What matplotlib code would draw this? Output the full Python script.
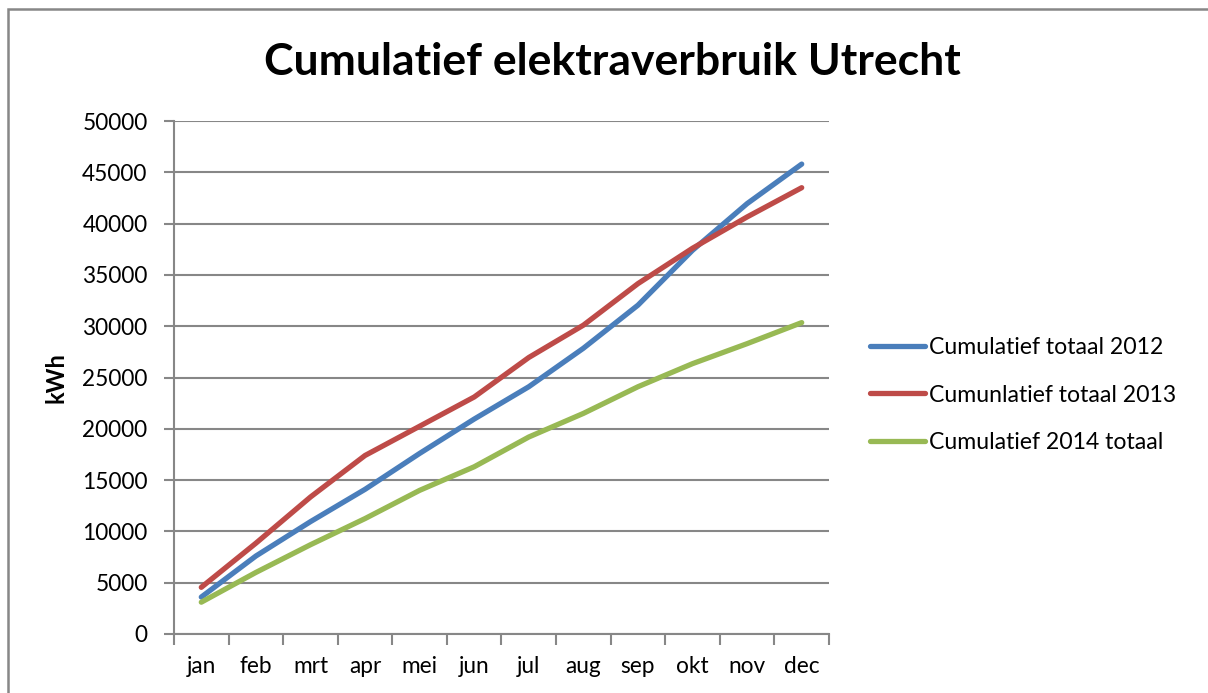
import matplotlib.pyplot as plt
from matplotlib.patches import Rectangle

months = ["jan", "feb", "mrt", "apr", "mei", "jun",
          "jul", "aug", "sep", "okt", "nov", "dec"]
totaal_2012 = [3600, 7600, 10950, 14100, 17600, 20950,
               24100, 27850, 32050, 37400, 41950, 45800]
totaal_2013 = [4550, 8850, 13350, 17400, 20250, 23100,
               26950, 30100, 34150, 37600, 40650, 43500]
totaal_2014 = [3100, 6000, 8700, 11250, 14000, 16300,
               19200, 21500, 24100, 26350, 28300, 30350]
series_names = ["Cumulatief totaal 2012", "Cumunlatief totaal 2013",
                "Cumulatief 2014 totaal"]
colors = ["#4A7EBB", "#BE4B48", "#98B954"]

plt.rcParams['font.family'] = ['Lato', 'DejaVu Sans']
grey = "#878787"

fig = plt.figure(figsize=(12.08, 6.93), dpi=100)
ax = fig.add_axes([174 / 1208, 1 - 634 / 693, (829 - 174) / 1208, (634 - 121) / 693])

x = range(len(months))
for vals, name, c in zip([totaal_2012, totaal_2013, totaal_2014], series_names, colors):
    ax.plot(x, vals, color=c, lw=3.8, label=name, solid_capstyle='round',
            solid_joinstyle='round')

ax.set_xlim(-0.5, len(months) - 0.5)
ax.set_ylim(0, 50000)
ax.set_yticks(range(0, 50001, 5000))
ax.set_yticklabels([str(v) for v in range(0, 50001, 5000)], fontsize=16.3)
ax.set_xticks([i - 0.5 for i in range(len(months) + 1)])
ax.set_xticklabels([])
ax.set_xticks(list(x), minor=True)
ax.set_xticklabels(months, minor=True, fontsize=16.3)
ax.tick_params(axis='x', which='major', length=8, width=1.5, color=grey, direction='out')
ax.tick_params(axis='x', which='minor', length=0, pad=16)
ax.tick_params(axis='y', length=7, width=1.5, color=grey, pad=12)

ax.grid(axis='y', color=grey, lw=1.5)
ax.set_axisbelow(True)
for side in ['top', 'right']:
    ax.spines[side].set_visible(False)
for side in ['left', 'bottom']:
    ax.spines[side].set_color(grey)
    ax.spines[side].set_linewidth(1.5)

ax.set_ylabel("kWh", fontsize=17, fontweight='bold')
ax.yaxis.set_label_coords((56 - 174) / 655, 0.5)
ax.yaxis.label.set_va('center')

fig.text(612 / 1208, 1 - 62 / 693, "Cumulatief elektraverbruik Utrecht",
         ha='center', va='center', fontsize=32, fontweight='bold')

ax.legend(loc='center left', bbox_to_anchor=((870 - 174) / 655, (634 - 395) / 513),
          frameon=False, borderpad=0, borderaxespad=0,
          fontsize=16.6, handlelength=2.4, handletextpad=0.15, labelspacing=1.15)

fig.patches.append(Rectangle((8 / 1208, -0.1), 1.2, 1 - 8.5 / 693 + 0.1,
                             transform=fig.transFigure, fill=False,
                             edgecolor=grey, lw=1.8))

fig.savefig("out.png", dpi=100)
